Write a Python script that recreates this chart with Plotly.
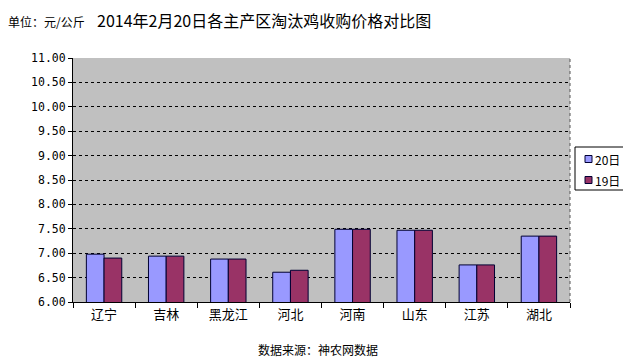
import plotly.graph_objects as go

categories = ["辽宁", "吉林", "黑龙江", "河北", "河南", "山东", "江苏", "湖北"]
series_names = ["20日", "19日"]
values_20 = [6.98, 6.94, 6.88, 6.61, 7.49, 7.47, 6.76, 7.35]
values_19 = [6.90, 6.94, 6.88, 6.65, 7.49, 7.47, 6.76, 7.35]
series_colors = ["#9999FF", "#993366"]
y_ticks = [6.0, 6.5, 7.0, 7.5, 8.0, 8.5, 9.0, 9.5, 10.0, 10.5, 11.0]
y_tick_labels = ["%.2f" % v for v in y_ticks]

cjk = "Noto Sans CJK SC"

# page body has an 8px offset; work in window pixel coords and convert
OFF = 8
PL, PR, PT, PB = 73, 570, 58, 302  # plot area in window pixels


def px(X):
    return (X - PL) / (PR - PL)


def py(Y):
    return (PB - Y) / (PB - PT)


fig = go.Figure()
for name, vals, col in zip(series_names, [values_20, values_19], series_colors):
    fig.add_trace(go.Bar(x=categories, y=vals, name=name,
                         marker=dict(color=col, line=dict(color="#000033", width=1))))

fig.update_layout(
    width=631 - OFF, height=359 - OFF,
    margin=dict(l=PL - OFF, r=631 - PR, t=PT - OFF, b=359 - PB, autoexpand=False),
    paper_bgcolor="white",
    plot_bgcolor="#C0C0C0",
    barmode="group",
    bargap=0.43,
    bargroupgap=0,
    showlegend=False,
    font=dict(family=cjk, color="black"),
)
fig.update_xaxes(
    type="category", showline=True, linecolor="black", linewidth=1,
    ticks="outside", tickson="boundaries", ticklen=5, tickcolor="black",
    tickfont=dict(family=cjk, size=13, color="black"), showgrid=False,
)
fig.update_yaxes(
    range=[6.0, 11.0], tickvals=y_ticks, ticktext=y_tick_labels,
    showline=True, linecolor="black", linewidth=1,
    ticks="outside", ticklen=4, tickcolor="black",
    tickfont=dict(family="DejaVu Sans Mono, monospace", size=11.5, color="black"),
    showgrid=True, gridcolor="black", griddash="3px,3px", gridwidth=1,
    zeroline=False,
)
# dotted right border of plot area
fig.add_shape(type="line", xref="paper", yref="paper", x0=1, x1=1, y0=0, y1=1,
              line=dict(color="#555555", width=1, dash="dot"))

# manual legend
fig.add_shape(type="rect", xref="paper", yref="paper", x0=px(575), x1=px(629), y0=py(147), y1=py(190),
              line=dict(color="black", width=1), fillcolor="white", layer="above")
for i, (name, col) in enumerate(zip(series_names, series_colors)):
    cy = 159 + i * 21
    fig.add_shape(type="rect", xref="paper", yref="paper", x0=px(585), x1=px(592),
                  y0=py(cy - 3.5), y1=py(cy + 3.5), line=dict(color="#000033", width=1),
                  fillcolor=col, layer="above")
    fig.add_annotation(text=name, xref="paper", yref="paper", x=px(593), y=py(cy),
                       xanchor="left", yanchor="middle", showarrow=False,
                       font=dict(family=cjk, size=12, color="black"))

fig.add_annotation(text="2014年2月20日各主产区淘汰鸡收购价格对比图", xref="paper", yref="paper",
                   x=px(264), y=py(20), xanchor="center", yanchor="middle",
                   showarrow=False, font=dict(family=cjk, size=16, color="black"))
fig.add_annotation(text="单位：元/公斤", xref="paper", yref="paper",
                   x=px(6), y=py(21), xanchor="left", yanchor="middle",
                   showarrow=False, font=dict(family=cjk, size=12, color="black"))
fig.add_annotation(text="数据来源：神农网数据", xref="paper", yref="paper",
                   x=px(318), y=py(349), xanchor="center", yanchor="middle",
                   showarrow=False, font=dict(family=cjk, size=12, color="black"))

fig.write_html("out.html")
